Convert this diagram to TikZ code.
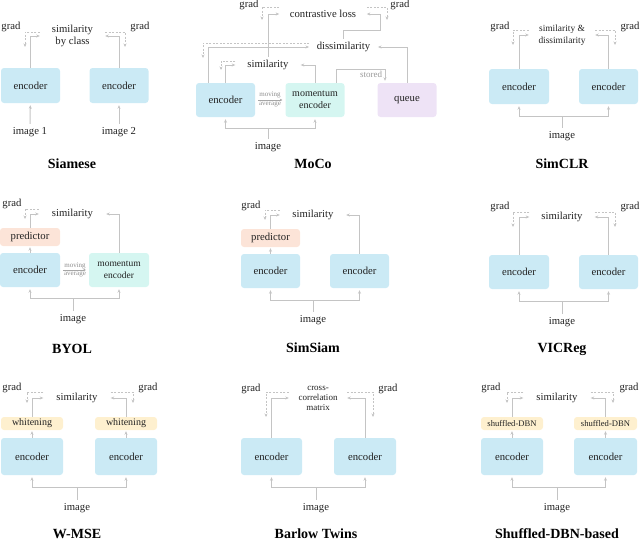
\documentclass[tikz,border=0pt]{standalone}
\usepackage{fontspec}
\setmainfont{Liberation Serif}
\usepackage{xcolor}
\definecolor{encblue}{HTML}{CBEAF5}
\definecolor{mint}{HTML}{D5F6F1}
\definecolor{lilac}{HTML}{EEE3F6}
\definecolor{peach}{HTML}{FCE4D8}
\definecolor{cream}{HTML}{FEF0CF}
\definecolor{wirecol}{HTML}{C4C4C4}
\definecolor{ink}{HTML}{222222}
\usepackage{tikz}
\usetikzlibrary{arrows.meta, positioning}

\tikzset{
  every node/.style={text=ink, font=\fontsize{10.7}{12}\selectfont},
  box/.style={rounded corners=3pt, inner sep=0pt, align=center, minimum width=60pt, minimum height=35pt},
  encbox/.style={box, fill=encblue},
  mombox/.style={box, fill=mint, font=\fontsize{10}{12}\selectfont},
  queuebox/.style={box, fill=lilac},
  predbox/.style={box, fill=peach, minimum height=18pt},
  normbox/.style={box, fill=cream, minimum height=13pt, minimum width=62pt},
  lossnode/.style={inner xsep=12pt, align=center},
  panelname/.style={font=\fontsize{14}{16}\selectfont\bfseries, text=black},
  smalltext/.style={text=black!45, font=\fontsize{7}{8}\selectfont},
  wire/.style={draw=wirecol, line width=1pt},
  flow/.style={wire, -{Stealth[length=3.5pt,width=3pt]}},
  boxin/.style={flow, shorten >=2pt},
  gradflow/.style={draw=wirecol, line width=0.8pt, dash pattern=on 2pt off 1.5pt, -{Stealth[length=3.5pt,width=3pt]}},
  avgflow/.style={draw=black!35, line width=0.5pt, -{Stealth[length=2.5pt,width=2.5pt]}, shorten <=3pt, shorten >=3pt},
}

\begin{document}
\begin{tikzpicture}[x=1pt, y=-1pt]
  \useasboundingbox (0,0) rectangle (640,541);

  % --- Siamese ---
  \begin{scope}[shift={(0,0)}]
  \node[encbox, minimum width=59pt] (siam-enc1) at (30.5,85.5) {encoder};
  \node[encbox, minimum width=59pt] (siam-enc2) at (119,85.5) {encoder};
  \node[lossnode] (siam-sim) at (72.5,36) {similarity\\by class};
  \node (siam-grad1) at (11,27) {grad};
  \node (siam-grad2) at (140,27) {grad};
  \node (siam-img1) at (30,132) {image 1};
  \node (siam-img2) at (119,132) {image 2};
  \node[panelname] (siam-name) at (72,164) {Siamese};
  \coordinate (siam-g1) at (25,47);
  \coordinate (siam-g2) at (125,47);
  \draw[flow] (siam-enc1.north) |- (siam-sim.west);
  \draw[flow] (siam-enc2.north) |- (siam-sim.east);
  \draw[gradflow] ([yshift=4pt]siam-sim.west) -| (siam-g1);
  \draw[gradflow] ([yshift=4pt]siam-sim.east) -| (siam-g2);
  \draw[boxin] (siam-img1) -- (siam-enc1);
  \draw[boxin] (siam-img2) -- (siam-enc2);
  \end{scope}

  % --- MoCo ---
  \begin{scope}[shift={(213,0)}]
  \node[encbox, minimum width=59pt, minimum height=34pt] (moco-enc) at (12.5,100) {encoder};
  \node[mombox, minimum width=59pt, minimum height=34pt] (moco-menc) at (102,100) {momentum\\encoder};
  \node[queuebox, minimum width=59pt, minimum height=34pt] (moco-queue) at (194,100) {queue};
  \node[lossnode] (moco-sim) at (55,65) {similarity};
  \node[lossnode, inner xsep=7.5pt] (moco-dis) at (130.5,47) {dissimilarity};
  \node[lossnode, inner xsep=10.5pt] (moco-loss) at (110,14) {contrastive loss};
  \node (moco-grad1) at (36,5) {grad};
  \node (moco-grad2) at (187,5) {grad};
  \node[smalltext] (moco-mov) at (57,95) {moving};
  \node[smalltext] (moco-avg) at (57,104) {average};
  \node[text=black!40, font=\fontsize{9}{10}\selectfont] (moco-stored) at (158,74) {stored};
  \node (moco-img) at (55,147) {image};
  \node[panelname] (moco-name) at (100,164) {MoCo};
  \coordinate (moco-g1) at (49,20);
  \coordinate (moco-g2) at (174,20);
  \coordinate (moco-g3) at (8,70);
  \coordinate (moco-g4) at (-10,58);
  \coordinate (moco-knee) at (167,30);
  \coordinate (moco-st) at (123,69);
  \coordinate (moco-split) at (55,128);
  \draw[flow] (moco-enc.north) |- (moco-sim.west);
  \draw[flow] ([xshift=-17.5pt]moco-enc.north) |- (moco-dis.west);
  \draw[flow] (moco-menc.north) |- (moco-sim.east);
  \draw[flow] (moco-queue.north) |- (moco-dis.east);
  \draw[flow] (moco-sim.north) |- (moco-loss.west);
  \draw[flow] (moco-dis.north) |- (moco-knee) |- (moco-loss.east);
  \draw[boxin] ([xshift=21pt]moco-menc.north) -- (moco-st) -| ([xshift=-22pt]moco-queue.north);
  \draw[gradflow] ([yshift=7pt]moco-loss.west) -| (moco-g1);
  \draw[gradflow] ([yshift=7pt]moco-loss.east) -| (moco-g2);
  \draw[gradflow] ([yshift=4pt]moco-sim.west) -| (moco-g3);
  \draw[gradflow] ([yshift=4pt]moco-dis.west) -| (moco-g4);
  \draw[avgflow] (moco-enc.east) -- (moco-menc.west);
  \draw[wire] (moco-img) -- (moco-split);
  \draw[boxin] (moco-split) -| (moco-enc.south);
  \draw[boxin] (moco-split) -| (moco-menc.south);
  \end{scope}

  % --- SimCLR ---
  \begin{scope}[shift={(427,0)}]
  \node[encbox] (clr-enc1) at (92,86.5) {encoder};
  \node[encbox, minimum width=59pt] (clr-enc2) at (181.5,86.5) {encoder};
  \node[lossnode, inner xsep=9.5pt, font=\fontsize{9.4}{12}\selectfont] (clr-sim) at (135,35) {similarity \&\\dissimilarity};
  \node (clr-grad1) at (73,27) {grad};
  \node (clr-grad2) at (203,27) {grad};
  \node (clr-img) at (135,136) {image};
  \node[panelname] (clr-name) at (135,164) {SimCLR};
  \coordinate (clr-g1) at (86,45);
  \coordinate (clr-g2) at (188,45);
  \coordinate (clr-split) at (135,116);
  \draw[flow] (clr-enc1.north) |- (clr-sim.west);
  \draw[flow] (clr-enc2.north) |- (clr-sim.east);
  \draw[gradflow] ([yshift=5pt]clr-sim.west) -| (clr-g1);
  \draw[gradflow] ([yshift=5pt]clr-sim.east) -| (clr-g2);
  \draw[wire] (clr-img) -- (clr-split);
  \draw[boxin] (clr-split) -| (clr-enc1.south);
  \draw[boxin] (clr-split) -| (clr-enc2.south);
  \end{scope}

  % --- BYOL ---
  \begin{scope}[shift={(0,180)}]
  \node[predbox] (byol-pred) at (30,57) {predictor};
  \node[encbox, minimum height=34pt] (byol-enc) at (30,90) {encoder};
  \node[mombox, minimum height=34pt, font=\fontsize{9.5}{12}\selectfont] (byol-menc) at (119,90) {momentum\\encoder};
  \node[lossnode, inner xsep=13pt] (byol-sim) at (72.5,34) {similarity};
  \node (byol-grad) at (12,24) {grad};
  \node[smalltext] (byol-mov) at (75,86) {moving};
  \node[smalltext] (byol-avg) at (75,94) {average};
  \node (byol-img) at (73,139) {image};
  \node[panelname] (byol-name) at (72,169) {BYOL};
  \coordinate (byol-g1) at (25,39);
  \coordinate (byol-split) at (73,118);
  \draw[boxin, shorten >=1pt] (byol-enc.north) -- (byol-pred.south);
  \draw[flow] (byol-pred.north) |- (byol-sim.west);
  \draw[flow] (byol-menc.north) |- (byol-sim.east);
  \draw[gradflow] ([yshift=5pt]byol-sim.west) -| (byol-g1);
  \draw[avgflow] (byol-enc.east) -- (byol-menc.west);
  \draw[wire] (byol-img) -- (byol-split);
  \draw[boxin] (byol-split) -| (byol-enc.south);
  \draw[boxin] (byol-split) -| (byol-menc.south);
  \end{scope}

  % --- SimSiam ---
  \begin{scope}[shift={(213,180)}]
  \node[predbox, minimum width=59pt] (ss-pred) at (57.5,58) {predictor};
  \node[encbox, minimum width=59pt, minimum height=34pt] (ss-enc1) at (57.5,91) {encoder};
  \node[encbox, minimum width=59pt, minimum height=34pt] (ss-enc2) at (146.5,91) {encoder};
  \node[lossnode, inner xsep=12.5pt] (ss-sim) at (100,35) {similarity};
  \node (ss-grad) at (38,26) {grad};
  \node (ss-img) at (100,140) {image};
  \node[panelname] (ss-name) at (100,168) {SimSiam};
  \coordinate (ss-g1) at (52,40);
  \coordinate (ss-split) at (100,120);
  \draw[boxin, shorten >=1pt] (ss-enc1.north) -- (ss-pred.south);
  \draw[flow] (ss-pred.north) |- (ss-sim.west);
  \draw[flow] (ss-enc2.north) |- (ss-sim.east);
  \draw[gradflow] ([yshift=5pt]ss-sim.west) -| (ss-g1);
  \draw[wire] (ss-img) -- (ss-split);
  \draw[boxin] (ss-split) -| (ss-enc1.south);
  \draw[boxin] (ss-split) -| (ss-enc2.south);
  \end{scope}

  % --- VICReg ---
  \begin{scope}[shift={(427,180)}]
  \node[encbox, minimum height=34pt] (vic-enc1) at (92,92) {encoder};
  \node[encbox, minimum width=59pt, minimum height=34pt] (vic-enc2) at (181.5,92) {encoder};
  \node[lossnode] (vic-sim) at (135,37) {similarity};
  \node (vic-grad1) at (73,27) {grad};
  \node (vic-grad2) at (203,27) {grad};
  \node (vic-img) at (135,142) {image};
  \node[panelname] (vic-name) at (135,169) {VICReg};
  \coordinate (vic-g1) at (86,47);
  \coordinate (vic-g2) at (188,47);
  \coordinate (vic-split) at (135,121);
  \draw[flow] (vic-enc1.north) |- (vic-sim.west);
  \draw[flow] (vic-enc2.north) |- (vic-sim.east);
  \draw[gradflow] ([yshift=5pt]vic-sim.west) -| (vic-g1);
  \draw[gradflow] ([yshift=5pt]vic-sim.east) -| (vic-g2);
  \draw[wire] (vic-img) -- (vic-split);
  \draw[boxin] (vic-split) -| (vic-enc1.south);
  \draw[boxin] (vic-split) -| (vic-enc2.south);
  \end{scope}

  % --- W-MSE ---
  \begin{scope}[shift={(0,360)}]
  \node[normbox, font=\fontsize{10}{12}\selectfont] (wm-wh1) at (32,63.5) {whitening};
  \node[normbox, font=\fontsize{10}{12}\selectfont] (wm-wh2) at (126,63.5) {whitening};
  \node[encbox, minimum width=62pt, minimum height=37pt] (wm-enc1) at (32,96.5) {encoder};
  \node[encbox, minimum width=62pt, minimum height=37pt] (wm-enc2) at (126,96.5) {encoder};
  \node[lossnode, inner xsep=13pt] (wm-sim) at (77,38) {similarity};
  \node (wm-grad1) at (12,28) {grad};
  \node (wm-grad2) at (148,28) {grad};
  \node (wm-img) at (77,148) {image};
  \node[panelname] (wm-name) at (77,173.5) {W-MSE};
  \coordinate (wm-g1) at (27,43);
  \coordinate (wm-g2) at (133,43);
  \coordinate (wm-split) at (77,127);
  \draw[boxin, shorten >=1pt] (wm-enc1.north) -- (wm-wh1.south);
  \draw[boxin, shorten >=1pt] (wm-enc2.north) -- (wm-wh2.south);
  \draw[flow] (wm-wh1.north) |- (wm-sim.west);
  \draw[flow] (wm-wh2.north) |- (wm-sim.east);
  \draw[gradflow] ([yshift=6pt]wm-sim.west) -| (wm-g1);
  \draw[gradflow] ([yshift=6pt]wm-sim.east) -| (wm-g2);
  \draw[wire] (wm-img) -- (wm-split);
  \draw[boxin] (wm-split) -| (wm-enc1.south);
  \draw[boxin] (wm-split) -| (wm-enc2.south);
  \end{scope}

  % --- Barlow Twins ---
  \begin{scope}[shift={(213,360)}]
  \node[encbox, minimum width=61pt, minimum height=37pt] (bt-enc1) at (58.5,96.5) {encoder};
  \node[encbox, minimum width=62pt, minimum height=37pt] (bt-enc2) at (152,96.5) {encoder};
  \node[lossnode, inner xsep=9.5pt, font=\fontsize{9}{10}\selectfont] (bt-ccm) at (105,38) {cross-\\correlation\\matrix};
  \node (bt-grad1) at (38,29) {grad};
  \node (bt-grad2) at (175,29) {grad};
  \node (bt-img) at (103,148) {image};
  \node[panelname] (bt-name) at (103,173.5) {Barlow Twins};
  \coordinate (bt-g1) at (53,57);
  \coordinate (bt-g2) at (160,57);
  \coordinate (bt-split) at (103,127);
  \draw[flow] (bt-enc1.north) |- (bt-ccm.west);
  \draw[flow] (bt-enc2.north) |- (bt-ccm.east);
  \draw[gradflow] ([yshift=6pt]bt-ccm.west) -| (bt-g1);
  \draw[gradflow] ([yshift=6pt]bt-ccm.east) -| (bt-g2);
  \draw[wire] (bt-img) -- (bt-split);
  \draw[boxin] (bt-split) -| (bt-enc1.south);
  \draw[boxin] (bt-split) -| (bt-enc2.south);
  \end{scope}

  % --- Shuffled-DBN-based ---
  \begin{scope}[shift={(427,360)}]
  \node[normbox, font=\fontsize{8.6}{10}\selectfont] (sd-bn1) at (85,63.5) {shuffled-DBN};
  \node[normbox, minimum width=63pt, font=\fontsize{8.6}{10}\selectfont] (sd-bn2) at (178.5,63.5) {shuffled-DBN};
  \node[encbox, minimum width=62pt, minimum height=37pt] (sd-enc1) at (85,96.5) {encoder};
  \node[encbox, minimum width=63pt, minimum height=37pt] (sd-enc2) at (178.5,96.5) {encoder};
  \node[lossnode, inner xsep=13pt] (sd-sim) at (130,38) {similarity};
  \node (sd-grad1) at (64,28) {grad};
  \node (sd-grad2) at (202,28) {grad};
  \node (sd-img) at (130,148) {image};
  \node[panelname] (sd-name) at (130,173.5) {Shuffled-DBN-based};
  \coordinate (sd-g1) at (80,43);
  \coordinate (sd-g2) at (186,43);
  \coordinate (sd-split) at (130,127);
  \draw[boxin, shorten >=1pt] (sd-enc1.north) -- (sd-bn1.south);
  \draw[boxin, shorten >=1pt] (sd-enc2.north) -- (sd-bn2.south);
  \draw[flow] (sd-bn1.north) |- (sd-sim.west);
  \draw[flow] (sd-bn2.north) |- (sd-sim.east);
  \draw[gradflow] ([yshift=6pt]sd-sim.west) -| (sd-g1);
  \draw[gradflow] ([yshift=6pt]sd-sim.east) -| (sd-g2);
  \draw[wire] (sd-img) -- (sd-split);
  \draw[boxin] (sd-split) -| (sd-enc1.south);
  \draw[boxin] (sd-split) -| (sd-enc2.south);
  \end{scope}
\end{tikzpicture}
\end{document}
